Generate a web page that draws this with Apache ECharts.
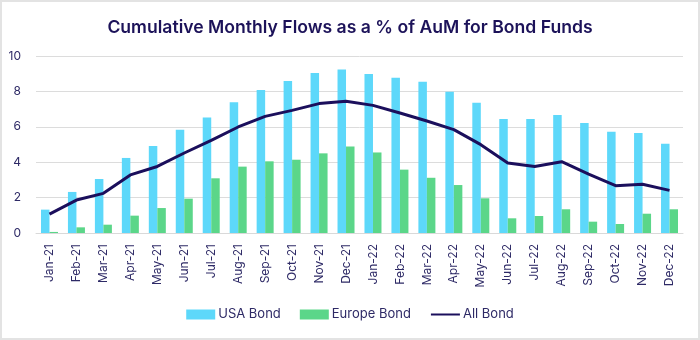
<!DOCTYPE html>
<html>
<head>
<meta charset="utf-8">
<script src="https://cdn.jsdelivr.net/npm/echarts@6/dist/echarts.min.js"></script>
<style>
html,body{margin:0;padding:0;background:#fff;}
#wrap{position:relative;width:700px;height:340px;}
#chart{position:absolute;left:0;top:0;width:700px;height:340px;}
#frame{position:absolute;left:0;top:0;width:700px;height:340px;box-sizing:border-box;border:2px solid #e3e3e3;pointer-events:none;}
</style>
</head>
<body>
<div id="wrap"><div id="chart"></div><div id="frame"></div></div>
<script>
const categories = ['Jan-21','Feb-21','Mar-21','Apr-21','May-21','Jun-21','Jul-21','Aug-21','Sep-21','Oct-21','Nov-21','Dec-21',
  'Jan-22','Feb-22','Mar-22','Apr-22','May-22','Jun-22','Jul-22','Aug-22','Sep-22','Oct-22','Nov-22','Dec-22'];
const usaBond = [1.32,2.32,3.05,4.24,4.92,5.84,6.53,7.38,8.08,8.59,9.04,9.24,8.98,8.77,8.55,7.98,7.36,6.44,6.44,6.67,6.21,5.72,5.65,5.04];
const europeBond = [0.06,0.32,0.47,0.98,1.41,1.94,3.09,3.75,4.05,4.14,4.50,4.89,4.55,3.58,3.12,2.71,1.96,0.83,0.96,1.34,0.64,0.51,1.09,1.34];
const allBond = [1.07,1.86,2.24,3.28,3.76,4.52,5.23,5.99,6.59,6.93,7.31,7.44,7.21,6.78,6.33,5.84,4.99,3.95,3.76,4.03,3.33,2.67,2.75,2.41];
const yTicks = {min:0, max:10, interval:2};

const FONT = 'Inter';
const chart = echarts.init(document.getElementById('chart'), null, {renderer:'canvas'});
chart.setOption({
  animation:false,
  backgroundColor:'#ffffff',
  title:{
    text:'Cumulative Monthly Flows as a % of AuM for Bond Funds',
    left:'center', top:14,
    textStyle:{fontFamily:FONT, fontSize:17.6, fontWeight:600, color:'#1c1259'}
  },
  legend:{
    bottom:14, left:'center',
    itemWidth:29, itemHeight:10, itemGap:19,
    textStyle:{fontFamily:FONT, fontSize:13, color:'#2e2a66', padding:[0,0,0,-2]},
    data:[
      {name:'USA Bond', icon:'rect'},
      {name:'Europe Bond', icon:'rect'},
      {name:'All Bond', itemStyle:{opacity:0, borderWidth:0}}
    ]
  },
  grid:{left:36, right:17, top:56, bottom:107, containLabel:false},
  xAxis:{
    type:'category', data:categories,
    axisLine:{lineStyle:{color:'#d9d9d9', width:1}},
    axisTick:{show:false},
    axisLabel:{rotate:90, interval:0, margin:11, fontFamily:FONT, fontSize:12, color:'#2e2a66'}
  },
  yAxis:{
    type:'value', min:yTicks.min, max:yTicks.max, interval:yTicks.interval,
    axisLine:{show:false}, axisTick:{show:false},
    splitLine:{lineStyle:{color:'#dcdcdc', width:1}},
    axisLabel:{margin:15, fontFamily:FONT, fontSize:12, color:'#2e2a66'}
  },
  series:[
    {name:'USA Bond', type:'bar', data:usaBond, barWidth:8.5, barGap:'0%',
     itemStyle:{color:'#5dd8fa'}},
    {name:'Europe Bond', type:'bar', data:europeBond, barWidth:8.5, barGap:'0%',
     itemStyle:{color:'#5bd689'}},
    {name:'All Bond', type:'line', data:allBond, symbol:'none', showSymbol:false,
     lineStyle:{color:'#1b0f5c', width:3}, itemStyle:{color:'#1b0f5c'}, z:5}
  ]
});
</script>
</body>
</html>
